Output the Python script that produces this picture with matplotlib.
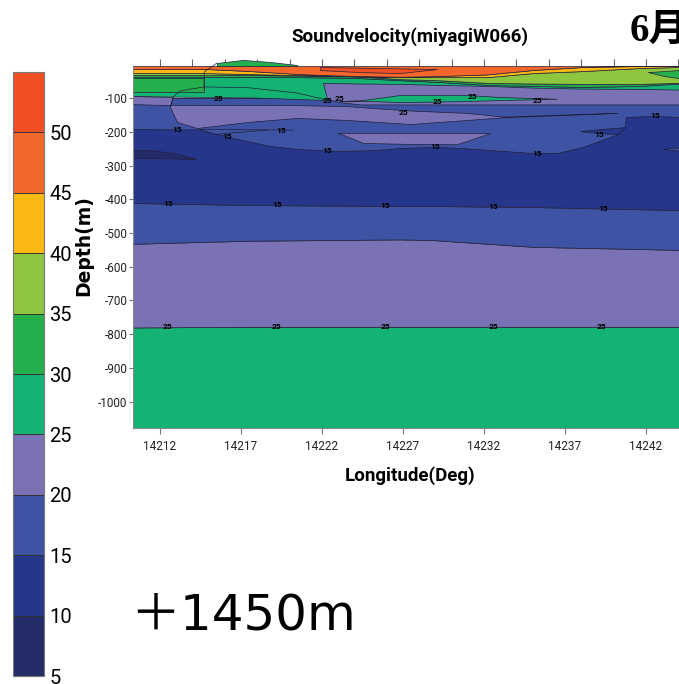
import matplotlib
matplotlib.use("Agg")
import matplotlib.pyplot as plt
from matplotlib.cm import ScalarMappable
from matplotlib.colors import BoundaryNorm, ListedColormap

narrow = ['Roboto', 'Liberation Sans']

# band colours, one per 5 step
levels = [5, 10, 15, 20, 25, 30, 35, 40, 45, 50, 55]
colors = ['#232b69', '#26368a', '#3f53a4', '#7a72b4', '#14b273',
          '#25b04d', '#8ec63f', '#fdb913', '#f3672a', '#f04e23']
c_dark, c_navy, c_blue, c_purple, c_teal, c_green, c_lime, c_yellow, c_orange, c_red = colors

x_ticks = [14212, 14217, 14222, 14227, 14232, 14237, 14242]
x_top_ticks = [14212, 14214, 14216, 14218, 14220, 14222, 14224, 14226, 14228, 14230,
               14232, 14234, 14236, 14238, 14240, 14242, 14244]
y_ticks = [-100, -200, -300, -400, -500, -600, -700, -800, -900, -1000]
x_min, x_max = 14210.33, 14244.04
y_top, y_bottom = -5, -1078

# deep layers
lon_deep = [14210.33, 14217.43, 14226.81, 14228.85, 14235.02, 14244.04]
iso15_deep = [-411, -417, -420, -420, -423, -432]
iso20_deep = [-532, -523, -519, -521, -541, -550]
iso25_deep = [-780, -778, -778, -778, -778, -778]

# lower edge of the blue band under the surface layers
lon_mid = [14210.33, 14214.47, 14215.52, 14216.75, 14218.79, 14220.46, 14223.11, 14225.4,
           14226.81, 14228.98, 14230.52, 14235.02, 14236.51, 14238.11, 14240.27, 14240.70,
           14240.76, 14242.43, 14244.04]
iso15_mid = [-192, -193, -207, -221, -242, -251, -257, -254, -248, -245, -248, -263, -263,
             -245, -207, -186, -156, -153, -156]

# surface layers
lon_top = [14210.33, 14214.72, 14214.84, 14217.56, 14220.64, 14222.19, 14224.35, 14226.81,
           14229.10, 14232.19, 14235.02, 14238.11, 14241.63, 14244.04]
iso45_top = [-14, -14, -14, -20, -29, -32, -35, -37, -35, -30, -17, -8, -5, -5]
iso40_top = [-26, -26, -26, -29, -32, -33, -36, -38, -38, -38, -26, -20, -11, -8]
iso35_top = [-32, -32, -32, -32, -33, -35, -36, -44, -47, -55, -57, -58, -58, -55]
iso30_top = [-38, -38, -38, -38, -38, -39, -41, -47, -52, -61, -64, -67, -64, -57]
iso25_top = [-94, -97, -97, -98, -103, -106, -106, -106, -106, -106, -106, -106, -106, -106]

# closed patches: lon, upper depth, lower depth, colour
patches = [
    ([14237.93, 14239.16, 14240.27, 14240.70], [-198, -192, -188, -186], [-198, -204, -207, -186], c_navy),
    ([14210.33, 14211.38, 14212.80, 14214.16], [-254, -254, -263, -279], [-276, -278, -279, -281], c_dark),
    ([14243.11, 14243.60, 14244.04], [-251, -247, -247], [-251, -254, -256], c_blue),
]
lens_lon = [14212.62, 14213.05, 14214.28, 14217.37, 14220.46, 14223.54, 14227.43, 14230.95, 14233.17, 14240.21]
lens_upper = [-121, -121, -121, -121, -121, -124, -137, -144, -155, -144]
lens_lower = [-127, -171, -189, -171, -159, -165, -177, -165, -157, -144]
lens2_lon = [14222.93, 14223.30, 14224.53, 14227.43, 14230.33, 14232.37]
lens2_upper = [-204, -203, -203, -203, -203, -204]
lens2_lower = [-204, -209, -233, -236, -237, -204]

purple_lon = [14222.06, 14222.31, 14223.11, 14224.35, 14226.81, 14229.10, 14232.19, 14235.02,
              14238.11, 14241.63, 14244.04]
purple_upper = [-55, -56, -56, -57, -58, -61, -64, -69, -72, -73, -75]
purple_lower = [-55, -103, -112, -119, -119, -119, -119, -119, -119, -119, -119]
wedge_lon = [14210.33, 14212.62, 14212.80]
wedge_upper = [-94, -97, -97]
wedge_lower = [-118, -121, -97]
teal_lens_lon = [14223.11, 14224.53, 14226.81, 14230.95, 14232.99, 14236.51]
teal_lens_upper = [-109, -106, -91, -91, -97, -102]
teal_lens_lower = [-109, -108, -112, -109, -106, -102]
green_left_lon = [14210.33, 14214.72]
green_left_upper = [-41, -41]
green_left_lower = [-82, -82]
green_right_lon = [14242.12, 14243.17, 14244.04]
green_right_upper = [-23, -20, -17]
green_right_lower = [-23, -35, -41]
red_b_lon = [14221.88, 14224.35, 14226.81, 14229.10]
red_b_upper = [-8, -10, -12, -14]
red_b_lower = [-17, -23, -26, -14]
hill_lon = [14215.52, 14217.12, 14218.79, 14220.46]
hill_upper = [4, 13, 7, -2]

# contour lines without a fill change
line_a_lon = [14212.62, 14212.80, 14213.23, 14214.72, 14217.37, 14220.46, 14222.31]
line_a_dep = [-127, -97, -79, -67, -69, -85, -106]
line_b_lon = [14214.72, 14214.72, 14215.52]
line_b_dep = [-76, -23, 4]
line_c_lon = [14214.47, 14220.21]
line_c_dep = [-193, -195]
line_d_lon = [14215.52, 14218.6]
line_d_dep = [-207, -195]

# contour labels
label25_lon = [14215.58, 14222.31, 14223.05, 14227.0, 14229.1, 14231.32, 14235.33,
               14212.43, 14219.16, 14225.89, 14232.56, 14239.28]
label25_dep = [-100, -106, -100, -144, -109, -94, -106, -778, -778, -778, -778, -778]
label15_lon = [14212.49, 14219.22, 14225.89, 14232.56, 14239.35, 14213.05, 14219.47,
               14216.14, 14222.31, 14228.98, 14235.27, 14239.1, 14242.56]
label15_dep = [-414, -417, -418, -420, -426, -192, -195, -215, -254, -245, -263, -207, -153]

fig = plt.figure(figsize=(6.79, 6.84), dpi=100)
ax = fig.add_axes([133 / 679, 1 - 428 / 684, 546 / 679, 362 / 684])
line_col = '#20203a'
edge = dict(edgecolor=line_col, linewidth=0.5)

# painted from the bottom up
ax.fill_between(lon_deep, iso25_deep, y_bottom, color=c_teal, **edge)
ax.fill_between(lon_deep, iso20_deep, iso25_deep, color=c_purple, **edge)
ax.fill_between(lon_deep, iso15_deep, iso20_deep, color=c_blue, **edge)
ax.fill_between(lon_deep, -100, iso15_deep, color=c_navy, **edge)
ax.fill_between(lon_mid, -100, iso15_mid, color=c_blue, **edge)
for lon, up, low, col in patches:
    ax.fill_between(lon, up, low, color=col, **edge)

ax.fill_between(lon_top, iso30_top, iso25_top, color=c_teal, **edge)
ax.fill_between(lon_top, iso35_top, iso30_top, color=c_green, **edge)
ax.fill_between(lon_top, iso40_top, iso35_top, color=c_lime, **edge)
ax.fill_between(lon_top, iso45_top, iso40_top, color=c_yellow, **edge)
ax.fill_between(lon_top, y_top, iso45_top, color=c_orange, **edge)

ax.fill_between(purple_lon, purple_upper, purple_lower, color=c_purple, **edge)
ax.fill_between(wedge_lon, wedge_upper, wedge_lower, color=c_purple, **edge)
ax.fill_between(lens_lon, lens_upper, lens_lower, color=c_purple, **edge)
ax.fill_between(lens2_lon, lens2_upper, lens2_lower, color=c_purple, **edge)
ax.fill_between(teal_lens_lon, teal_lens_upper, teal_lens_lower, color=c_teal, **edge)
ax.fill_between(green_left_lon, green_left_upper, green_left_lower, color=c_green, **edge)
ax.fill_between(green_right_lon, green_right_upper, green_right_lower, color=c_green, **edge)
ax.fill_between(red_b_lon, red_b_upper, red_b_lower, color=c_red, **edge)
ax.fill_between(hill_lon, hill_upper, y_top, color=c_green, clip_on=False, **edge)

ax.plot(line_a_lon, line_a_dep, color=line_col, lw=0.5)
ax.plot(line_b_lon, line_b_dep, color=line_col, lw=0.5, clip_on=False)
ax.plot(line_c_lon, line_c_dep, color=line_col, lw=0.5)
ax.plot(line_d_lon, line_d_dep, color=line_col, lw=0.5)

for lon, dep in zip(label25_lon, label25_dep):
    ax.text(lon, dep, '25', fontsize=6, family=narrow, weight='bold', ha='center', va='center')
for lon, dep in zip(label15_lon, label15_dep):
    ax.text(lon, dep, '15', fontsize=6, family=narrow, weight='bold', ha='center', va='center')

ax.set_xlim(x_min, x_max)
ax.set_ylim(y_bottom, y_top)
ax.set_xticks(x_ticks)
ax.set_xticklabels([str(v) for v in x_ticks], family=narrow, fontsize=8.5, color='#222222')
ax.set_yticks(y_ticks)
ax.set_yticklabels([str(v) for v in y_ticks], family=narrow, fontsize=8.5, color='#222222')
ax.tick_params(axis='x', length=4, color='#777777', pad=5)
ax.tick_params(axis='y', length=3, color='#777777', pad=1)
for side in ['left', 'bottom']:
    ax.spines[side].set_color('#888888')
for side in ['top', 'right']:
    ax.spines[side].set_visible(False)

top = ax.secondary_xaxis('top')
top.set_xticks(x_top_ticks)
top.set_xticklabels([])
top.tick_params(length=5, color='#666666', width=0.8)
top.spines['top'].set_visible(False)

# colour scale
cax = fig.add_axes([13 / 679, 1 - 676 / 684, 31 / 679, 604 / 684])
sm = ScalarMappable(norm=BoundaryNorm(levels, len(colors)), cmap=ListedColormap(colors))
cb = fig.colorbar(sm, cax=cax, ticks=levels[:-1], spacing='uniform', drawedges=True)
cb.minorticks_off()
cb.dividers.set_color('#333333')
cb.dividers.set_linewidth(0.7)
cb.outline.set_edgecolor('#777777')
cb.ax.tick_params(length=0, pad=4)
cb.ax.set_yticklabels([str(v) for v in levels[:-1]], family=narrow, fontsize=14.5)

fig.text(410 / 679, 1 - 37 / 684, 'Soundvelocity(miyagiW066)', family=narrow, weight='bold',
         fontsize=13.5, ha='center', va='center')
fig.text(410 / 679, 1 - 476 / 684, 'Longitude(Deg)', family=narrow, weight='bold',
         fontsize=13.5, ha='center', va='center')
fig.text(84 / 679, 1 - 246 / 684, 'Depth(m)', family='DejaVu Sans', weight='bold',
         fontsize=13.5, rotation=90, ha='center', va='center')
fig.text(630 / 679, 1 - 31 / 684, '6月', family=['Liberation Serif', 'Noto Sans CJK JP'],
         weight='bold', fontsize=28, ha='left', va='center')
fig.text(130 / 679, 1 - 615 / 684, '＋1450m', family=['DejaVu Sans', 'Noto Sans CJK JP'],
         fontsize=36, ha='left', va='center')

fig.savefig('out.png', dpi=100)
